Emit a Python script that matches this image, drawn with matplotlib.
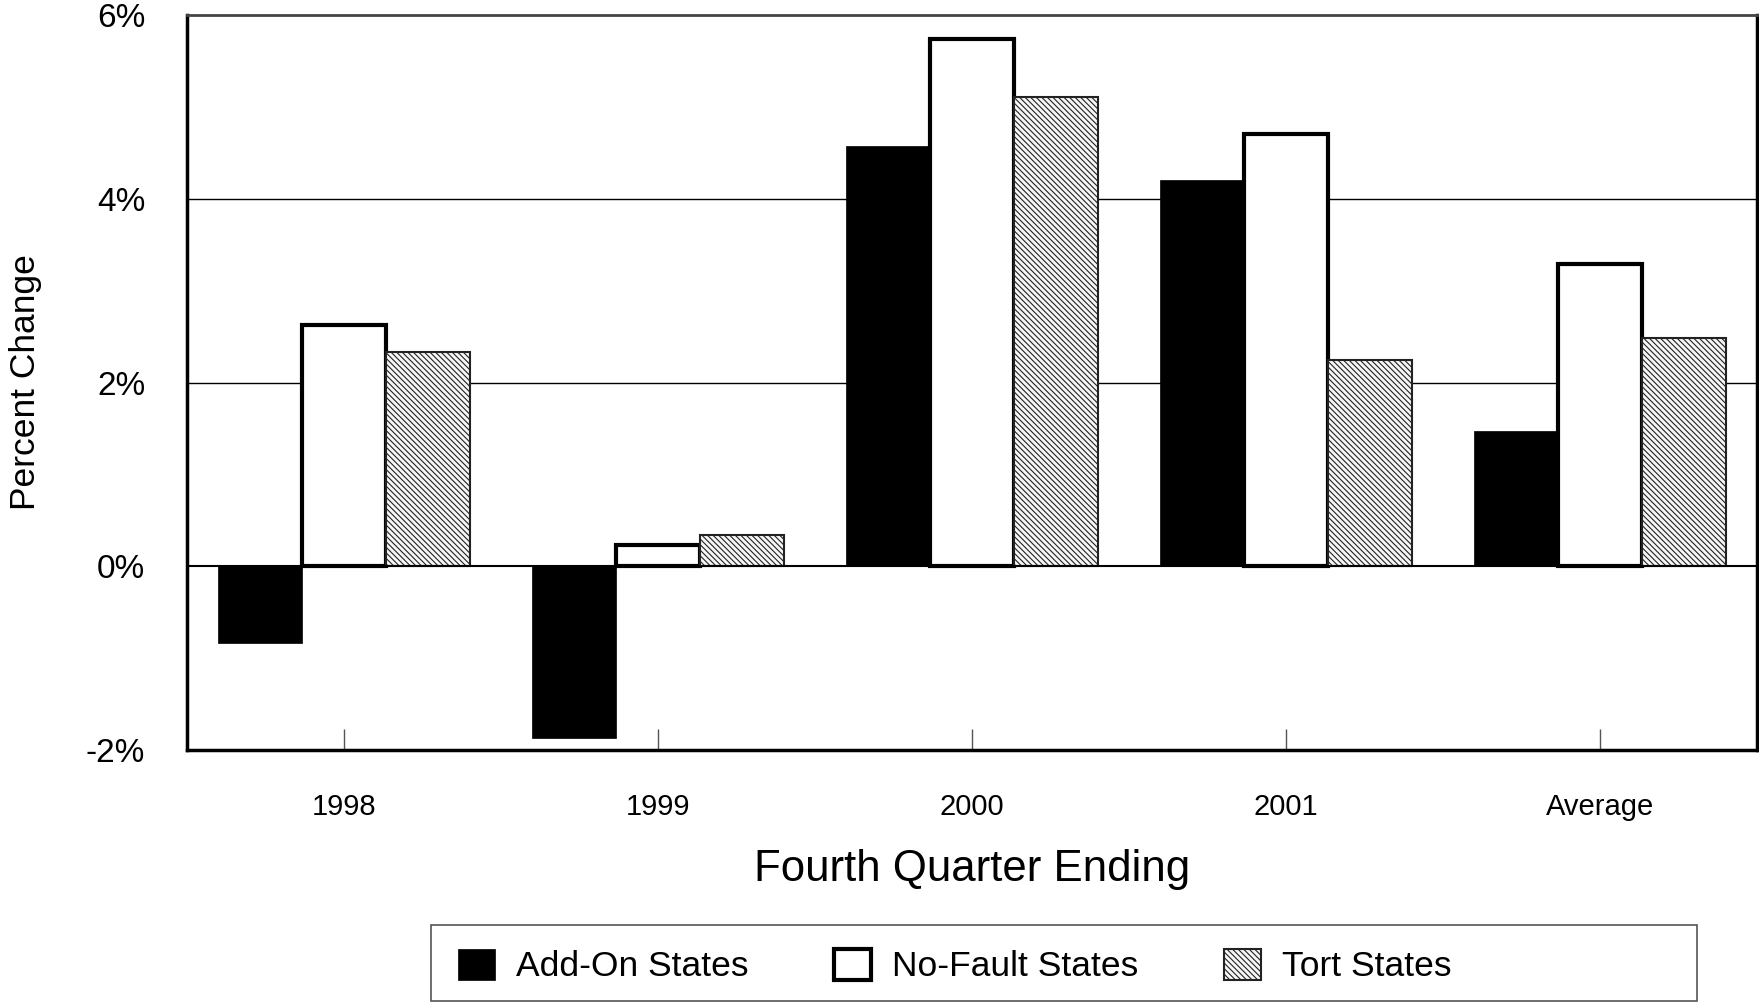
import matplotlib.pyplot as plt
from matplotlib.patches import Rectangle
import numpy as np

plt.rcParams['font.family'] = ['Liberation Sans', 'DejaVu Sans']
plt.rcParams['hatch.linewidth'] = 0.8
plt.rcParams['hatch.color'] = '#a5a5a5'

categories = ['1998', '1999', '2000', '2001', 'Average']
add_on = [-0.83, -1.87, 4.57, 4.20, 1.47]
no_fault = [2.63, 0.23, 5.74, 4.71, 3.29]
tort = [2.33, 0.34, 5.11, 2.25, 2.48]

x = np.arange(len(categories))
w = 0.268

fig = plt.figure(figsize=(17.59, 10.02), dpi=100)
ax = fig.add_axes([187/1759, 1 - 750/1002, (1757-187)/1759, (750-15)/1002])

ax.bar(x - w, add_on, w, color='black', edgecolor='black', linewidth=0.5,
       label='Add-On States', zorder=3)
ax.bar(x, no_fault, w, color='white', edgecolor='black', linewidth=3,
       label='No-Fault States', zorder=3)
ax.bar(x + w, tort, w, color='#f6f6f6', edgecolor='#222222', linewidth=1.5,
       hatch='\\\\\\\\\\\\', label='Tort States', zorder=3)

ax.set_xlim(-0.5, 4.5)
ax.set_ylim(-2, 6)
ax.set_yticks([-2, 0, 2, 4, 6])
ax.set_yticklabels(['-2%', '0%', '2%', '4%', '6%'])
ax.set_xticks(x)
ax.set_xticklabels(categories)
for yv in [2, 4]:
    ax.axhline(yv, color='black', linewidth=1, zorder=1)
ax.axhline(0, color='black', linewidth=1.5, zorder=4)

ax.tick_params(axis='y', length=0, pad=30, labelsize=24)
ax.tick_params(axis='x', direction='in', length=15, width=1, color='#555555',
               pad=31, labelsize=21)

for s in ['left', 'bottom', 'right']:
    ax.spines[s].set_linewidth(2.5)
    ax.spines[s].set_color('black')
ax.spines['top'].set_linewidth(2)
ax.spines['top'].set_color('#444444')

ax.set_ylabel('Percent Change', fontsize=25.5, labelpad=32)
ax.set_xlabel('Fourth Quarter Ending', fontsize=31.5, labelpad=20)

# legend entries without frame, box drawn separately (ref box has wide right margin)
leg = fig.legend(loc='center left', bbox_to_anchor=(458/1759, 1 - 966/1002), ncol=3,
                 fontsize=25.5, frameon=False, borderpad=0, borderaxespad=0,
                 handlelength=1.05, handleheight=1.0, columnspacing=2.4,
                 handletextpad=0.6)
fig.patches.append(Rectangle((431/1759, 1 - 1001/1002), (1697-431)/1759, (1001-925)/1002,
                             transform=fig.transFigure, fill=False,
                             edgecolor='#555555', linewidth=1.2))

fig.savefig('out.png', dpi=100)
